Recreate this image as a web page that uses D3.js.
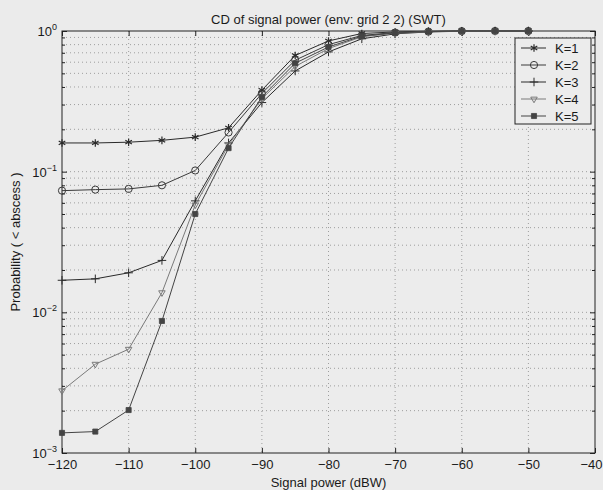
<!DOCTYPE html>
<html>
<head>
<meta charset="utf-8">
<script src="https://cdn.jsdelivr.net/npm/d3@7"></script>
<style>
  html, body { margin: 0; padding: 0; background: #ebebeb; }
  svg { display: block; }
  text { font-family: "Liberation Sans", Arial, Helvetica, sans-serif; fill: #1a1a1a; }
</style>
</head>
<body>
<svg id="chart" width="603" height="490"></svg>
<script>
// Signal power samples (dBW)
const power = [-120, -115, -110, -105, -100, -95, -90, -85, -80, -75, -70, -65, -60, -55, -50];

// Cumulative probability for each K
const k1 = [0.160, 0.160, 0.162, 0.167, 0.176, 0.205, 0.38, 0.67, 0.85, 0.96, 0.985, 0.995, 1.0, 1.0, 1.0];
const k2 = [0.0733, 0.0745, 0.0754, 0.080, 0.102, 0.19, 0.36, 0.62, 0.80, 0.93, 0.975, 0.99, 0.998, 1.0, 1.0];
const k3 = [0.0169, 0.0173, 0.0191, 0.0234, 0.062, 0.16, 0.31, 0.52, 0.71, 0.88, 0.955, 0.985, 0.996, 1.0, 1.0];
const k4 = [0.00277, 0.00428, 0.00547, 0.0138, 0.058, 0.155, 0.33, 0.56, 0.75, 0.91, 0.965, 0.988, 0.997, 1.0, 1.0];
const k5 = [0.00139, 0.00142, 0.00202, 0.00868, 0.050, 0.147, 0.34, 0.59, 0.77, 0.92, 0.97, 0.99, 0.998, 1.0, 1.0];

const seriesNames = ["K=1", "K=2", "K=3", "K=4", "K=5"];
const xTicks = [-120, -110, -100, -90, -80, -70, -60, -50, -40];
const yDecades = [1e-3, 1e-2, 1e-1, 1];
const yDecadeExp = ["−3", "−2", "−1", "0"];

const titleText = "CD of signal power (env: grid 2 2) (SWT)";
const xLabelText = "Signal power (dBW)";
const yLabelText = "Probability ( < abscess )";

const svg = d3.select("#chart");
const L = 62, R = 595, T = 31, B = 453;

const x = d3.scaleLinear().domain([-120, -40]).range([L, R]);
const y = d3.scaleLog().domain([1e-3, 1]).range([B, T]);

// minor log positions (2..9 per decade) plus decades
const yAll = [];
yDecades.slice(0, 3).forEach(d => { for (let m = 1; m < 10; m++) yAll.push(d * m); });
yAll.push(1);
const yMinor = yAll.filter(v => !yDecades.some(d => Math.abs(d - v) < 1e-12));

// plot background
svg.append("rect").attr("x", L).attr("y", T).attr("width", R - L).attr("height", B - T)
  .attr("fill", "#ececec");

// dotted grid
const grid = svg.append("g").attr("stroke", "#8a8a8a").attr("stroke-width", 0.8)
  .attr("stroke-dasharray", "1,3");
grid.selectAll("line.gx").data(xTicks.slice(1, -1)).join("line")
  .attr("x1", d => x(d)).attr("x2", d => x(d)).attr("y1", T).attr("y2", B);
grid.selectAll("line.gy").data(yAll.filter(v => v > 1e-3 && v < 1)).join("line")
  .attr("x1", L).attr("x2", R).attr("y1", d => y(d)).attr("y2", d => y(d));

// axes with inward ticks
const fmt = d3.format("");
svg.append("g").attr("transform", `translate(0,${B})`)
  .call(d3.axisBottom(x).tickValues(xTicks).tickFormat(fmt).tickSizeInner(-5).tickSizeOuter(0).tickPadding(7))
  .call(g => g.select(".domain").remove())
  .call(g => g.selectAll("text").attr("font-size", 13).style("fill", "#1a1a1a"))
  .call(g => g.selectAll(".tick").filter(d => d === -40).select("text")
    .attr("text-anchor", "end").attr("x", 7));
svg.append("g").attr("transform", `translate(0,${T})`)
  .call(d3.axisTop(x).tickValues(xTicks).tickFormat("").tickSizeInner(-5).tickSizeOuter(0))
  .call(g => g.select(".domain").remove());

function yTicksOn(axisFn, xpos) {
  svg.append("g").attr("transform", `translate(${xpos},0)`)
    .call(axisFn(y).tickValues(yDecades).tickFormat("").tickSizeInner(-5).tickSizeOuter(0))
    .call(g => g.select(".domain").remove());
  svg.append("g").attr("transform", `translate(${xpos},0)`)
    .call(axisFn(y).tickValues(yMinor).tickFormat("").tickSizeInner(-3).tickSizeOuter(0))
    .call(g => g.select(".domain").remove());
}
yTicksOn(d3.axisLeft, L);
yTicksOn(d3.axisRight, R);
svg.selectAll(".tick line").attr("stroke", "#222");

// frame
svg.append("rect").attr("x", L).attr("y", T).attr("width", R - L).attr("height", B - T)
  .attr("fill", "none").attr("stroke", "#222").attr("stroke-width", 1);

// y decade labels with superscripts
const yl = svg.append("g");
yDecades.forEach((d, i) => {
  const t = yl.append("text").attr("x", L - 5).attr("y", y(d) + 5)
    .attr("text-anchor", "end").attr("font-size", 13);
  t.append("tspan").text("10");
  t.append("tspan").attr("dy", -6).attr("font-size", 9).text(yDecadeExp[i]);
});

// series
const series = [k1, k2, k3, k4, k5].map((vals, i) => ({
  name: seriesNames[i],
  pts: power.map((p, j) => ({ p, v: vals[j] }))
}));
const colors = ["#2a2a2a", "#3a3a3a", "#2a2a2a", "#7a7a7a", "#444"];
const line = d3.line().x(d => x(d.p)).y(d => y(d.v));

function marker(g, i, cx, cy) {
  const s = g.append("g").attr("transform", `translate(${cx},${cy})`).attr("stroke", colors[i]);
  if (i === 0) {
    s.append("path").attr("d", d3.symbol(d3.symbolAsterisk, 40)()).attr("fill", "none").attr("stroke-width", 1.2);
  } else if (i === 1) {
    s.append("circle").attr("r", 3.6).attr("fill", "none").attr("stroke-width", 1);
  } else if (i === 2) {
    s.append("path").attr("d", d3.symbol(d3.symbolPlus, 26)()).attr("fill", "none").attr("stroke-width", 1);
  } else if (i === 3) {
    s.append("path").attr("d", d3.symbol(d3.symbolTriangle2, 30)()).attr("transform", "rotate(180)")
      .attr("fill", "none").attr("stroke-width", 1);
  } else {
    s.append("path").attr("d", d3.symbol(d3.symbolSquare, 26)()).attr("fill", colors[i]).attr("stroke-width", 0.8);
  }
}

const plot = svg.append("g");
series.forEach((s, i) => {
  plot.append("path").datum(s.pts).attr("d", line).attr("fill", "none")
    .attr("stroke", colors[i]).attr("stroke-width", 1);
  s.pts.forEach(d => marker(plot, i, x(d.p), y(d.v)));
});

// legend
const lg = svg.append("g");
const lx = 515, ly = 38, lw = 76, lh = 86;
lg.append("rect").attr("x", lx).attr("y", ly).attr("width", lw).attr("height", lh)
  .attr("fill", "#ececec").attr("stroke", "#222").attr("stroke-width", 1);
seriesNames.forEach((n, i) => {
  const yy = ly + 10 + i * 17;
  lg.append("line").attr("x1", lx + 6).attr("x2", lx + 31).attr("y1", yy).attr("y2", yy)
    .attr("stroke", colors[i]).attr("stroke-width", 1);
  marker(lg, i, lx + 19, yy);
  lg.append("text").attr("x", lx + 40).attr("y", yy + 5).attr("font-size", 13).text(n);
});

// titles
svg.append("text").attr("x", (L + R) / 2).attr("y", 24).attr("text-anchor", "middle")
  .attr("font-size", 13).text(titleText);
svg.append("text").attr("x", (L + R) / 2).attr("y", 487).attr("text-anchor", "middle")
  .attr("font-size", 13).text(xLabelText);
svg.append("text").attr("transform", `translate(20,${(T + B) / 2}) rotate(-90)`)
  .attr("text-anchor", "middle").attr("font-size", 13).text(yLabelText);
</script>
</body>
</html>
